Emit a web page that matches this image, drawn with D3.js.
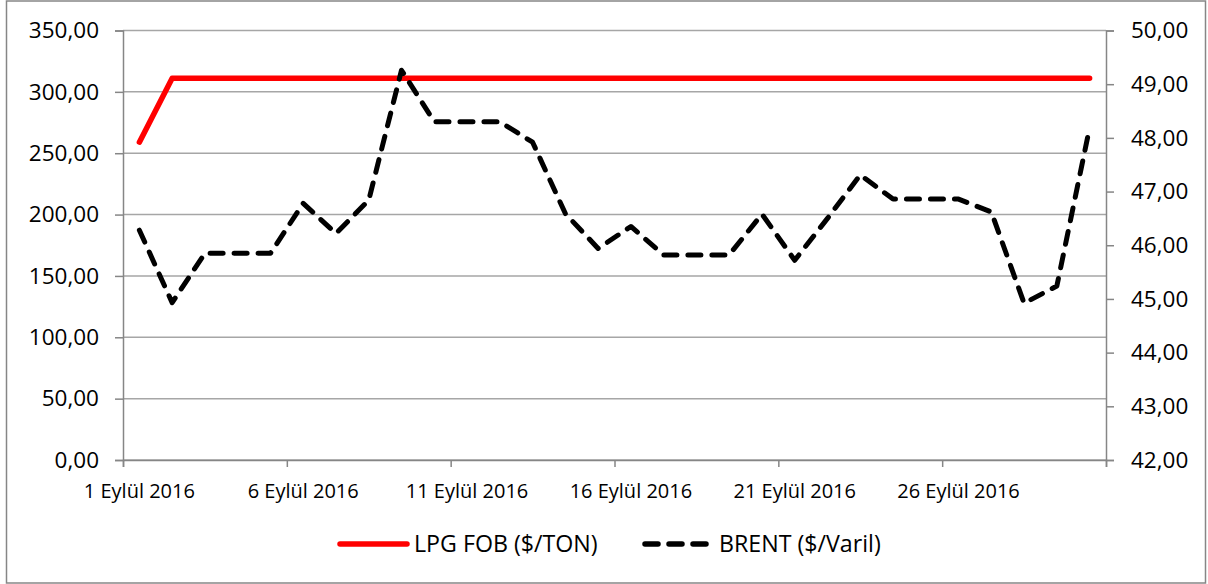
<!DOCTYPE html>
<html>
<head>
<meta charset="utf-8">
<script src="https://cdn.jsdelivr.net/npm/d3@7"></script>
<style>
  body { margin: 0; background: #fff; }
  text { font-family: "Open Sans", sans-serif; fill: #000; }
</style>
</head>
<body>
<div id="chart"></div>
<script>
const width = 1208, height = 584,
  margin = { top: 30.5, bottom: 124, left: 123, right: 102 };

// Eylül 2016, one value per day
const dates = [
  "2016-09-01", "2016-09-02", "2016-09-03", "2016-09-04", "2016-09-05",
  "2016-09-06", "2016-09-07", "2016-09-08", "2016-09-09", "2016-09-10",
  "2016-09-11", "2016-09-12", "2016-09-13", "2016-09-14", "2016-09-15",
  "2016-09-16", "2016-09-17", "2016-09-18", "2016-09-19", "2016-09-20",
  "2016-09-21", "2016-09-22", "2016-09-23", "2016-09-24", "2016-09-25",
  "2016-09-26", "2016-09-27", "2016-09-28", "2016-09-29", "2016-09-30"
];
const lpgFob = [
  259, 311, 311, 311, 311, 311, 311, 311, 311, 311,
  311, 311, 311, 311, 311, 311, 311, 311, 311, 311,
  311, 311, 311, 311, 311, 311, 311, 311, 311, 311
];
const brent = [
  46.28, 44.93, 45.85, 45.85, 45.85, 46.78, 46.22, 46.84, 49.26, 48.30,
  48.30, 48.30, 47.92, 46.59, 45.94, 46.35, 45.82, 45.82, 45.82, 46.58,
  45.72, 46.50, 47.31, 46.86, 46.86, 46.86, 46.62, 44.92, 45.24, 48.19
];
const xTickDates = ["2016-09-01", "2016-09-06", "2016-09-11", "2016-09-16", "2016-09-21", "2016-09-26"];
const leftTicks = [0, 50, 100, 150, 200, 250, 300, 350];
const rightTicks = [42, 43, 44, 45, 46, 47, 48, 49, 50];
const seriesNames = ["LPG FOB ($/TON)", "BRENT ($/Varil)"];
const monthsTr = ["Ocak", "Şubat", "Mart", "Nisan", "Mayıs", "Haziran",
  "Temmuz", "Ağustos", "Eylül", "Ekim", "Kasım", "Aralık"];

const parse = d3.utcParse("%Y-%m-%d");
const trLocale = d3.timeFormatLocale({
  dateTime: "%a %e %b %X %Y", date: "%d.%m.%Y", time: "%H:%M:%S",
  periods: ["AM", "PM"],
  days: ["Pazar", "Pazartesi", "Salı", "Çarşamba", "Perşembe", "Cuma", "Cumartesi"],
  shortDays: ["Paz", "Pzt", "Sal", "Çar", "Per", "Cum", "Cmt"],
  months: monthsTr,
  shortMonths: monthsTr.map(m => m.slice(0, 3))
});
const fmtDate = trLocale.utcFormat("%-d %B %Y");
const fmtNum = d3.formatLocale({ decimal: ",", thousands: ".", grouping: [3], currency: ["", "$"] }).format(".2f");

const data = dates.map((d, i) => ({ date: parse(d), lpg: lpgFob[i], brent: brent[i] }));
const halfDay = d => d3.utcHour.offset(d, 12);

const x = d3.scaleUtc()
  .domain([parse(dates[0]), d3.utcDay.offset(parse(dates[dates.length - 1]), 1)])
  .range([margin.left, width - margin.right]);
const yL = d3.scaleLinear().domain([0, 350]).range([height - margin.bottom, margin.top]);
const yR = d3.scaleLinear().domain([42, 50]).range([height - margin.bottom, margin.top]);

const svg = d3.select("#chart").append("svg")
  .attr("width", width).attr("height", height);

// outer frame
svg.append("rect")
  .attr("x", 6.5).attr("y", 1).attr("width", 1199).attr("height", 582)
  .attr("fill", "#fff").attr("stroke", "#868686").attr("stroke-width", 1.5);

// gridlines
svg.append("g")
  .selectAll("line")
  .data(leftTicks)
  .join("line")
  .attr("x1", margin.left).attr("x2", width - margin.right)
  .attr("y1", d => yL(d)).attr("y2", d => yL(d))
  .attr("stroke", "#a6a6a6").attr("stroke-width", 1.5);

// left axis
const gL = svg.append("g")
  .attr("transform", `translate(${margin.left},0)`)
  .call(d3.axisLeft(yL).tickValues(leftTicks).tickFormat(fmtNum).tickSize(8).tickPadding(16));
gL.selectAll("text").style("font-size", "22.5px");

// right axis
const gR = svg.append("g")
  .attr("transform", `translate(${width - margin.right},0)`)
  .call(d3.axisRight(yR).tickValues(rightTicks).tickFormat(fmtNum).tickSize(8).tickPadding(17));
gR.selectAll("text").style("font-size", "22.5px");

// bottom axis: tick marks at day boundaries, labels centred on the day
const tickDates = xTickDates.map(parse).concat([x.domain()[1]]);
const gB = svg.append("g")
  .attr("transform", `translate(0,${height - margin.bottom})`)
  .call(d3.axisBottom(x).tickValues(tickDates).tickSize(7).tickFormat(""));
gB.append("g")
  .selectAll("text")
  .data(xTickDates.map(parse))
  .join("text")
  .attr("x", d => x(halfDay(d)))
  .attr("y", 38)
  .attr("text-anchor", "middle")
  .style("font-size", "20px")
  .text(d => fmtDate(d));

[gL, gR, gB].forEach(g => {
  g.select(".domain").attr("stroke", "#868686").attr("stroke-width", 1.5);
  g.selectAll(".tick line").attr("stroke", "#868686").attr("stroke-width", 1.5);
});

// series
const lineLpg = d3.line().x(d => x(halfDay(d.date))).y(d => yL(d.lpg));
const lineBrent = d3.line().x(d => x(halfDay(d.date))).y(d => yR(d.brent));

svg.append("path")
  .datum(data)
  .attr("d", lineLpg)
  .attr("fill", "none").attr("stroke", "#ff0000").attr("stroke-width", 5.5)
  .attr("stroke-linecap", "round").attr("stroke-linejoin", "round");

svg.append("path")
  .datum(data)
  .attr("d", lineBrent)
  .attr("fill", "none").attr("stroke", "#000").attr("stroke-width", 5)
  .attr("stroke-dasharray", "13 11")
  .attr("stroke-linecap", "round").attr("stroke-linejoin", "round");

// legend
const legend = svg.append("g").attr("transform", "translate(0,544)");
const legItems = [
  { name: seriesNames[0], x: 340, color: "#ff0000", dash: null },
  { name: seriesNames[1], x: 645, color: "#000", dash: "13 11" }
];
legItems.forEach(it => {
  legend.append("line")
    .attr("x1", it.x).attr("x2", it.x + 67)
    .attr("stroke", it.color).attr("stroke-width", 5.5)
    .attr("stroke-linecap", "round")
    .attr("stroke-dasharray", it.dash);
  legend.append("text")
    .attr("x", it.x + 74).attr("y", 8)
    .style("font-size", "23.2px")
    .text(it.name);
});
</script>
</body>
</html>
